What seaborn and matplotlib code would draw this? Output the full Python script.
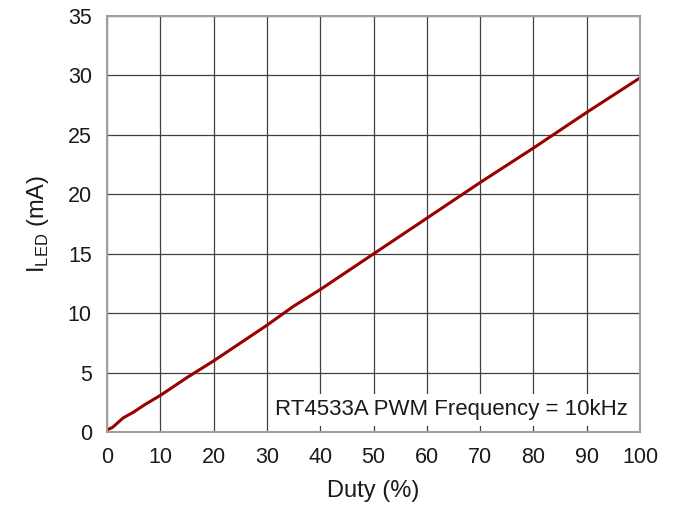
import numpy as np
import pandas as pd
from matplotlib import pyplot as plt
import seaborn as sns

sns.set_style('white')
plt.rcParams['font.family'] = ['Liberation Sans', 'DejaVu Sans']
plt.rcParams['mathtext.fontset'] = 'custom'
plt.rcParams['mathtext.rm'] = 'Liberation Sans'
plt.rcParams['text.color'] = '#1a1a1a'
plt.rcParams['axes.labelcolor'] = '#1a1a1a'
plt.rcParams['xtick.color'] = '#1a1a1a'
plt.rcParams['ytick.color'] = '#1a1a1a'

# values
duty = [0, 1, 2, 3, 5, 7, 10, 15, 20, 25, 30, 35, 40, 50, 60, 70, 80, 90, 100]
iled = [0.2, 0.4, 0.8, 1.2, 1.7, 2.3, 3.1, 4.6, 6.0, 7.5, 9.0, 10.6, 12.0, 15.0, 18.0, 21.0, 23.9, 26.9, 29.8]

df = pd.DataFrame({'duty': duty, 'iled': iled})

fig = plt.figure(figsize=(6.78, 5.17), dpi=100)
ax = fig.add_axes([0.158, 0.164, 0.786, 0.805])
sns.lineplot(data=df, x='duty', y='iled', ax=ax, color='#990000', linewidth=2.2)

ax.set_xlim(0, 100)
ax.set_ylim(0, 35)
ax.set_xticks(np.arange(0, 101, 10))
ax.set_yticks(np.arange(0, 36, 5))
ax.grid(True, color='#404040', linewidth=0.9)
ax.set_axisbelow(True)
for s in ax.spines.values():
    s.set_color('#a0a0a0')
    s.set_linewidth(1.5)
ax.tick_params(length=0, labelsize=15.5, pad=11)

ax.set_xlabel('Duty (%)', fontsize=17, labelpad=8)
ax.set_ylabel(r'I$_{\mathrm{LED}}$ (mA)', fontsize=17, labelpad=12)

ax.text(97.8, 1.9, 'RT4533A PWM Frequency = 10kHz', fontsize=16, ha='right', va='center',
        bbox=dict(facecolor='white', edgecolor='none', pad=4))

plt.savefig('out.png', dpi=100)
